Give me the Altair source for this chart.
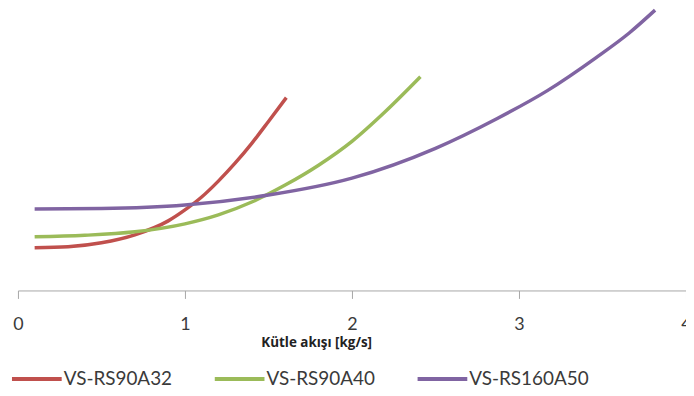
import altair as alt
import pandas as pd

series_names = ["VS-RS90A32", "VS-RS90A40", "VS-RS160A50"]
colors = ["#C0504D", "#9BBB59", "#8064A2"]

red_x = [0.1, 0.3, 0.5, 0.7, 0.9, 1.0, 1.1, 1.2, 1.3, 1.4, 1.5, 1.607]
red_y = [43, 44, 48, 56, 70, 81, 94, 110, 128, 148, 170, 194]

green_x = [0.1, 0.4, 0.7, 1.0, 1.2, 1.4, 1.6, 1.8, 2.0, 2.2, 2.41]
green_y = [54, 55.5, 59, 67, 76, 89, 106, 126, 150, 180, 215]

purple_x = [0.1, 0.5, 1.0, 1.5, 2.0, 2.5, 2.87, 3.17, 3.46, 3.66, 3.815]
purple_y = [82, 82.5, 86, 96, 113, 143, 173, 201, 234, 259, 282]

x_ticks = [0, 1, 2, 3, 4]

rows = []
for name, xs, ys in zip(series_names, [red_x, green_x, purple_x], [red_y, green_y, purple_y]):
    for i, (a, b) in enumerate(zip(xs, ys)):
        rows.append({"series": name, "x": a, "y": b, "order": i})
df = pd.DataFrame(rows)

chart = alt.Chart(df).mark_line(strokeWidth=3.5, interpolate="monotone").encode(
    x=alt.X("x:Q", scale=alt.Scale(domain=[0, 4], nice=False, zero=True),
            axis=alt.Axis(values=x_ticks, title="Kütle akışı [kg/s]", grid=False,
                          domainColor="#A6A6A6", tickColor="#A6A6A6", tickSize=8,
                          labelFont="Lato", labelFontSize=18, labelColor="#3A3A3A",
                          labelPadding=17, labelFlush=False,
                          titleFont="Open Sans", titleFontSize=13.5, titleFontWeight="bold",
                          titleColor="#222222", titleX=300, titleY=52,
                          titleAlign="center", titleBaseline="middle")),
    y=alt.Y("y:Q", scale=alt.Scale(domain=[0, 283], nice=False), axis=None),
    color=alt.Color("series:N", scale=alt.Scale(domain=series_names, range=colors),
                    legend=alt.Legend(title=None, orient="none", legendX=-8, legendY=345,
                                      direction="horizontal", columns=3, gridAlign="all",
                                      symbolType="stroke", symbolSize=2500, symbolStrokeWidth=4,
                                      columnPadding=23, labelOffset=0,
                                      labelFont="Lato", labelFontSize=19, labelColor="#3A3A3A",
                                      labelLimit=300)),
    order="order:Q",
).properties(
    width=672, height=283,
    autosize=alt.AutoSizeParams(type="none"),
    padding={"left": 10, "top": 0, "right": 0, "bottom": 100},
).configure_view(stroke=None)

chart.save("out.html", embed_options={"renderer": "svg", "actions": False})
